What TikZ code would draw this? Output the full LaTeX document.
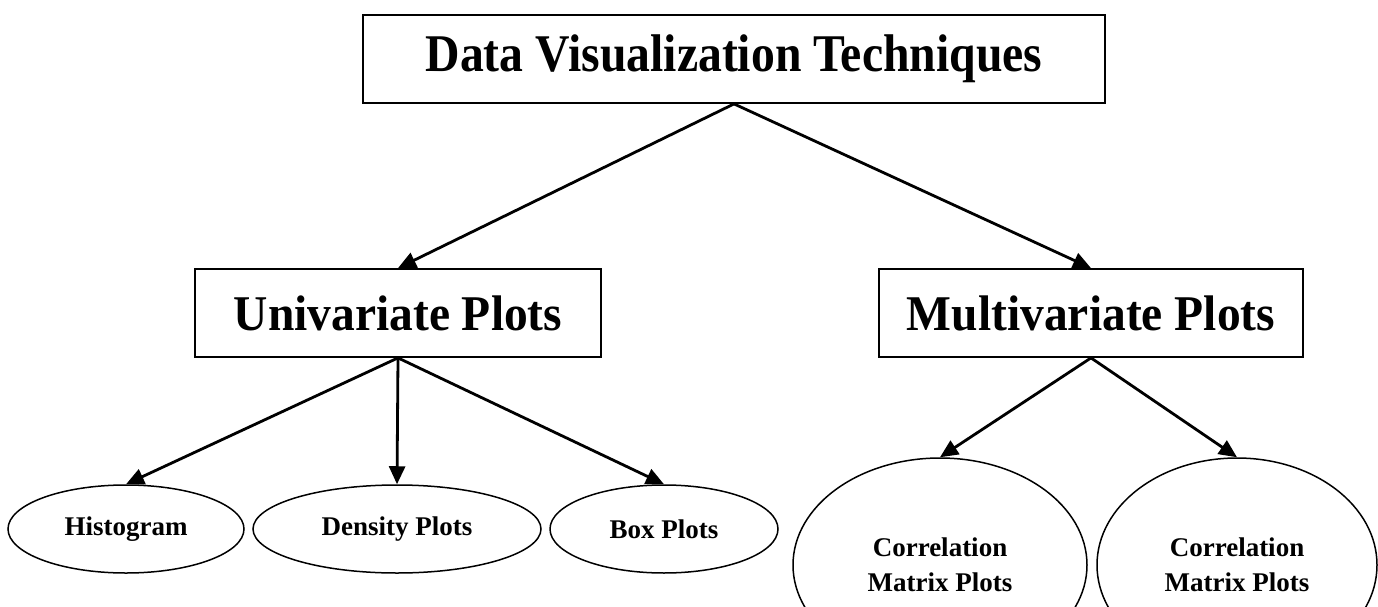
\documentclass[tikz,border=0pt]{standalone}
\usepackage{fontspec}
\setmainfont{Liberation Serif}
\usetikzlibrary{arrows.meta,shapes.geometric}
\begin{document}
\begin{tikzpicture}[x=1pt,y=-1pt,
  rbox/.style={draw, line width=1.8pt, inner sep=0pt, font=\bfseries},
  oval/.style={draw, ellipse, line width=1.5pt, inner sep=0pt, align=center,
    font=\fontsize{27}{35}\selectfont\bfseries},
  arr/.style={line width=2.8pt, -{Triangle[length=18pt,width=16pt]}}]
\useasboundingbox (0,0) rectangle (1378,607);
\node[rbox, minimum width=742pt, minimum height=88pt] (title) at (734,59)
  {\fontsize{53}{56}\selectfont\scalebox{0.9}[1]{Data Visualization Techniques}};
\node[rbox, minimum width=406pt, minimum height=88pt] (uni) at (398,313)
  {\fontsize{50}{52}\selectfont\scalebox{0.95}[1]{Univariate Plots}};
\node[rbox, minimum width=424pt, minimum height=88pt] (multi) at (1091,313)
  {\fontsize{50}{52}\selectfont\scalebox{0.95}[1]{Multivariate Plots}};
\node[oval, minimum width=236pt, minimum height=88pt] (hist) at (126,529) {Histogram};
\node[oval, minimum width=288pt, minimum height=88pt] (dens) at (397,529) {Density Plots};
\node[oval, minimum width=228pt, minimum height=88pt] (boxp) at (664,529) {Box Plots};
\node[oval, minimum width=294pt, minimum height=214pt] (corra) at (940,565) {Correlation\\Matrix Plots};
\node[oval, minimum width=280pt, minimum height=214pt] (corrb) at (1237,565) {Correlation\\Matrix Plots};
\draw[arr] (title.south) -- (uni.north);
\draw[arr] (title.south) -- (multi.north);
\draw[arr] (uni.south) -- (hist.north);
\draw[arr] (uni.south) -- (dens.north);
\draw[arr] (uni.south) -- (boxp.north);
\draw[arr] (multi.south) -- (corra.north);
\draw[arr] (multi.south) -- (corrb.north);
\end{tikzpicture}
\end{document}
